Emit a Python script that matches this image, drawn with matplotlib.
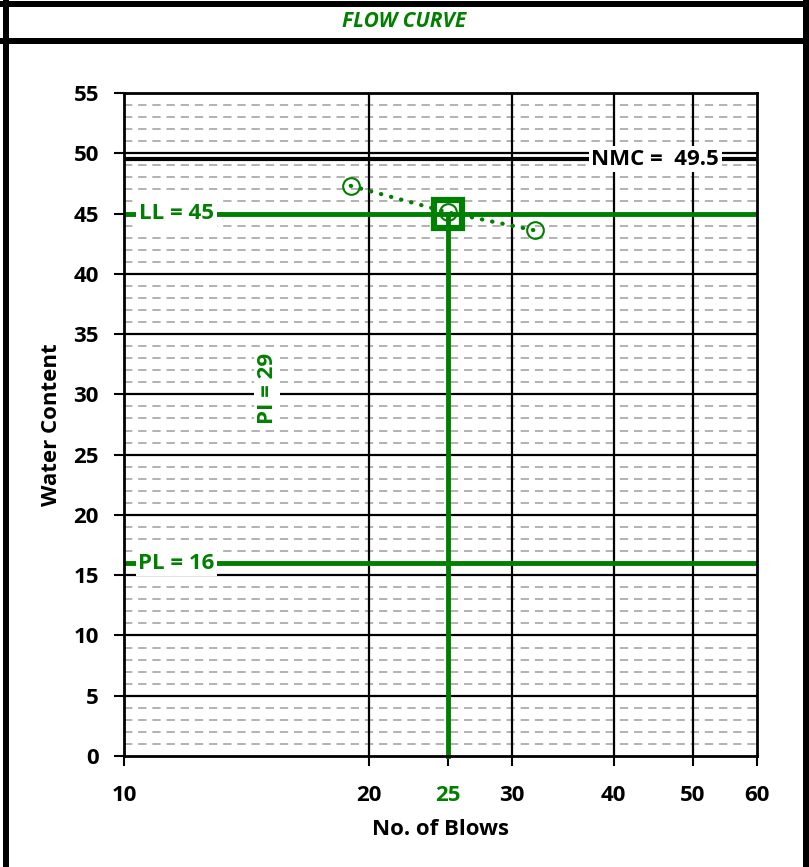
import matplotlib.pyplot as plt
from matplotlib.patches import Rectangle
from matplotlib.ticker import FixedLocator, NullFormatter, NullLocator

# données
blows = [19, 25, 32]
water = [47.3, 45.1, 43.6]
ll = 45
pl = 16
pi_val = 29
nmc = 49.5
x_ticks = [10, 20, 25, 30, 40, 50, 60]
y_ticks = list(range(0, 56, 5))

green = '#008000'
plt.rcParams['font.family'] = ['Open Sans', 'DejaVu Sans']
fs = 16

W, H = 809, 867
fig = plt.figure(figsize=(W / 100, H / 100), dpi=100)
ax = fig.add_axes([124 / W, 1 - 756 / H, (757 - 124) / W, (756 - 93) / H])

ax.set_xscale('log')
ax.set_xlim(10, 60)
ax.set_ylim(0, 55)

# grille
for y in range(1, 55):
    if y % 5:
        ax.axhline(y, color='#a6a6a6', lw=1.2, ls=(0, (5, 3.5)), zorder=1)
    else:
        ax.axhline(y, color='black', lw=1.6, zorder=1.5)
for x in [20, 30, 40, 50]:
    ax.axvline(x, color='black', lw=1.6, zorder=1.5)

# NMC
ax.axhline(nmc, color='black', lw=3, zorder=2)
ax.text(45, nmc, f'NMC =  {nmc}', ha='center', va='center', fontsize=fs,
        fontweight='bold', color='black', zorder=3,
        bbox=dict(facecolor='white', edgecolor='none', pad=2))

# LL / PL
ax.axhline(ll, color=green, lw=3.5, zorder=2)
ax.axhline(pl, color=green, lw=3.5, zorder=2)
ax.plot([25, 25], [0, ll], color=green, lw=3.5, zorder=2, clip_on=False)
ax.text(11.6, ll, f'LL = {ll}', ha='center', va='center', fontsize=fs,
        fontweight='bold', color=green, zorder=3,
        bbox=dict(facecolor='white', edgecolor='none', pad=2))
ax.text(11.6, pl, f'PL = {pl}', ha='center', va='center', fontsize=fs,
        fontweight='bold', color=green, zorder=3,
        bbox=dict(facecolor='white', edgecolor='none', pad=2))
ax.text(15, (ll + pl) / 2, f'PI = {pi_val}', ha='center', va='center',
        fontsize=fs, fontweight='bold', color=green, rotation=90, zorder=3,
        bbox=dict(facecolor='white', edgecolor='none', pad=2))

# courbe d'écoulement
ax.plot(blows, water, color=green, lw=3, ls=(0, (0.1, 2.4)),
        dash_capstyle='round', zorder=4)
ax.plot(blows, water, 'o', ms=12, mfc='none', mec=green, mew=1.5, zorder=5)
ax.plot([25], [ll], 's', ms=20, mfc='none', mec=green, mew=4.5, zorder=5)

# axes
ax.xaxis.set_major_locator(FixedLocator(x_ticks))
ax.xaxis.set_minor_locator(NullLocator())
ax.xaxis.set_minor_formatter(NullFormatter())
ax.set_xticklabels([str(v) for v in x_ticks])
ax.set_yticks(y_ticks)
for lab in ax.get_xticklabels():
    if lab.get_text() == '25':
        lab.set_color(green)
ax.tick_params(axis='both', direction='out', length=7, width=1.5,
               labelsize=fs)
ax.tick_params(axis='x', pad=14)
ax.tick_params(axis='y', pad=11)
for lab in ax.get_xticklabels() + ax.get_yticklabels():
    lab.set_fontweight('bold')
for s in ax.spines.values():
    s.set_linewidth(2)
    s.set_zorder(6)

ax.set_xlabel('No. of Blows', fontsize=fs, fontweight='bold', labelpad=9)
ax.set_ylabel('Water Content', fontsize=fs, fontweight='bold', labelpad=8)

# cadre et titre
def rect(x0, y0, x1, y1):
    fig.add_artist(Rectangle((x0 / W, 1 - y1 / H), (x1 - x0) / W, (y1 - y0) / H,
                             transform=fig.transFigure, facecolor='black',
                             edgecolor='none'))

rect(0, 1, 806, 7)
rect(0, 38, 806, 44)
rect(3, 0, 8.5, H)
rect(803, 0, 809, H)
fig.text(0.5, 1 - 21.5 / H, 'FLOW CURVE', ha='center', va='center', fontsize=15,
         fontweight='bold', fontstyle='italic', color=green)

fig.savefig('out.png', dpi=100)
